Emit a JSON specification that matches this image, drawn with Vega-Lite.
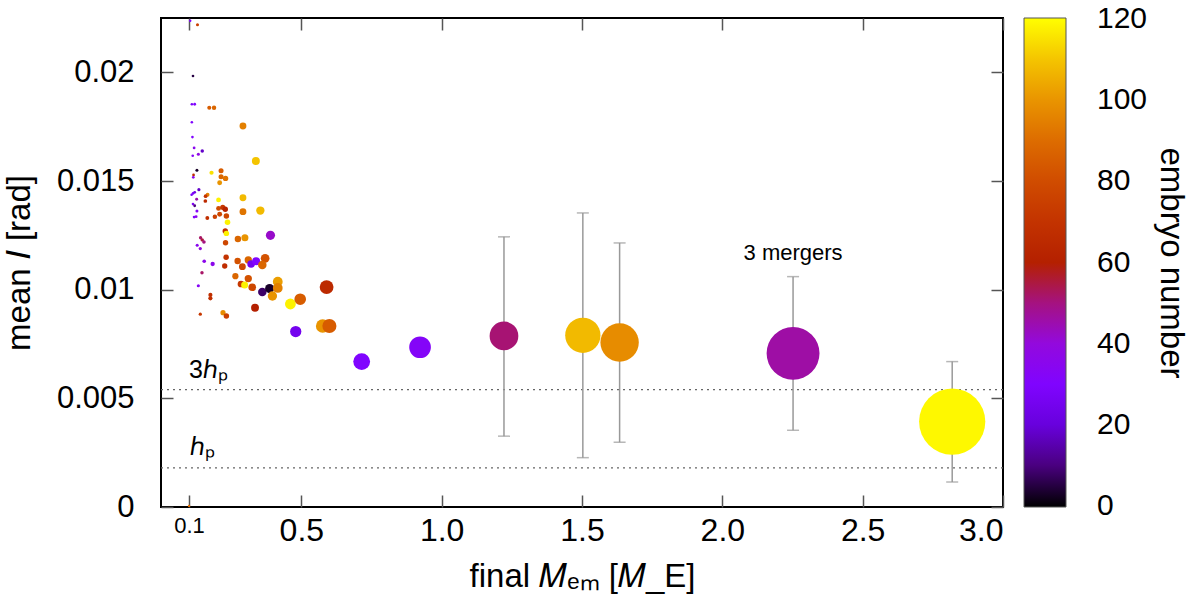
{
  "$schema": "https://vega.github.io/schema/vega-lite/v6.json",
  "autosize": {"type": "none"},
  "width": 842,
  "height": 489,
  "padding": {"left": 161, "top": 18, "right": 197, "bottom": 109},
  "config": {
    "font": "Liberation Sans",
    "view": {"stroke": "#000", "strokeWidth": 2},
    "axis": {
      "domain": false,
      "grid": false,
      "tickColor": "#555",
      "tickWidth": 1.5,
      "tickSize": -12,
      "labelColor": "#000",
      "labelFontSize": 31,
      "titleFontSize": 33,
      "titleFontWeight": "normal",
      "titleColor": "#000"
    },
    "legend": {"gradientLabelOffset": 31}
  },
  "datasets": {
    "pts": [
      {"m": 0.104, "i": 0.02237, "n": 30}, {"m": 0.130, "i": 0.02219, "n": 75},
      {"m": 0.114, "i": 0.01983, "n": 5}, {"m": 0.110, "i": 0.01853, "n": 28},
      {"m": 0.120, "i": 0.01853, "n": 30}, {"m": 0.172, "i": 0.01837, "n": 85},
      {"m": 0.189, "i": 0.01837, "n": 88}, {"m": 0.110, "i": 0.01770, "n": 30},
      {"m": 0.292, "i": 0.01753, "n": 95}, {"m": 0.112, "i": 0.01702, "n": 30},
      {"m": 0.118, "i": 0.01652, "n": 35}, {"m": 0.113, "i": 0.01616, "n": 32},
      {"m": 0.133, "i": 0.01623, "n": 38}, {"m": 0.147, "i": 0.01638, "n": 18},
      {"m": 0.338, "i": 0.01592, "n": 110}, {"m": 0.128, "i": 0.01549, "n": 3},
      {"m": 0.116, "i": 0.01528, "n": 65}, {"m": 0.115, "i": 0.01517, "n": 35},
      {"m": 0.180, "i": 0.01538, "n": 115}, {"m": 0.214, "i": 0.01547, "n": 85},
      {"m": 0.214, "i": 0.01520, "n": 88}, {"m": 0.230, "i": 0.01512, "n": 92},
      {"m": 0.209, "i": 0.01492, "n": 100}, {"m": 0.114, "i": 0.01443, "n": 30},
      {"m": 0.109, "i": 0.01437, "n": 28}, {"m": 0.120, "i": 0.01448, "n": 22},
      {"m": 0.135, "i": 0.01460, "n": 18}, {"m": 0.166, "i": 0.01437, "n": 95},
      {"m": 0.159, "i": 0.01430, "n": 70}, {"m": 0.127, "i": 0.01416, "n": 45},
      {"m": 0.114, "i": 0.01394, "n": 32}, {"m": 0.158, "i": 0.01408, "n": 65},
      {"m": 0.120, "i": 0.01386, "n": 10}, {"m": 0.292, "i": 0.01423, "n": 108},
      {"m": 0.205, "i": 0.01413, "n": 118}, {"m": 0.128, "i": 0.01362, "n": 32},
      {"m": 0.118, "i": 0.01334, "n": 30}, {"m": 0.125, "i": 0.01336, "n": 35},
      {"m": 0.165, "i": 0.01330, "n": 68}, {"m": 0.192, "i": 0.01336, "n": 75},
      {"m": 0.209, "i": 0.01347, "n": 78}, {"m": 0.205, "i": 0.01374, "n": 80},
      {"m": 0.220, "i": 0.01379, "n": 72}, {"m": 0.229, "i": 0.01370, "n": 62},
      {"m": 0.233, "i": 0.01339, "n": 78}, {"m": 0.292, "i": 0.01359, "n": 92},
      {"m": 0.354, "i": 0.01364, "n": 108}, {"m": 0.237, "i": 0.01310, "n": 118},
      {"m": 0.229, "i": 0.01270, "n": 68}, {"m": 0.233, "i": 0.01259, "n": 118},
      {"m": 0.141, "i": 0.01239, "n": 52}, {"m": 0.147, "i": 0.01229, "n": 55},
      {"m": 0.153, "i": 0.01219, "n": 50}, {"m": 0.230, "i": 0.01216, "n": 78},
      {"m": 0.274, "i": 0.01233, "n": 88}, {"m": 0.299, "i": 0.01239, "n": 100},
      {"m": 0.390, "i": 0.01250, "n": 42}, {"m": 0.129, "i": 0.01204, "n": 35},
      {"m": 0.140, "i": 0.01189, "n": 40}, {"m": 0.154, "i": 0.01131, "n": 36},
      {"m": 0.184, "i": 0.01118, "n": 36}, {"m": 0.232, "i": 0.01149, "n": 70},
      {"m": 0.227, "i": 0.01109, "n": 67}, {"m": 0.273, "i": 0.01132, "n": 82},
      {"m": 0.290, "i": 0.01106, "n": 78}, {"m": 0.311, "i": 0.01137, "n": 88},
      {"m": 0.321, "i": 0.01118, "n": 25}, {"m": 0.339, "i": 0.01131, "n": 30},
      {"m": 0.371, "i": 0.01144, "n": 82}, {"m": 0.361, "i": 0.01114, "n": 88},
      {"m": 0.146, "i": 0.01078, "n": 52}, {"m": 0.133, "i": 0.01018, "n": 33},
      {"m": 0.265, "i": 0.01062, "n": 88}, {"m": 0.285, "i": 0.01026, "n": 72},
      {"m": 0.298, "i": 0.01022, "n": 118}, {"m": 0.311, "i": 0.01051, "n": 82},
      {"m": 0.325, "i": 0.01011, "n": 78}, {"m": 0.361, "i": 0.00989, "n": 8},
      {"m": 0.387, "i": 0.01005, "n": 3}, {"m": 0.416, "i": 0.01037, "n": 102},
      {"m": 0.416, "i": 0.01008, "n": 95}, {"m": 0.397, "i": 0.00971, "n": 100},
      {"m": 0.461, "i": 0.00934, "n": 118}, {"m": 0.496, "i": 0.00956, "n": 85},
      {"m": 0.590, "i": 0.01012, "n": 65}, {"m": 0.176, "i": 0.00976, "n": 68},
      {"m": 0.176, "i": 0.00960, "n": 68}, {"m": 0.140, "i": 0.00887, "n": 72},
      {"m": 0.221, "i": 0.00894, "n": 98}, {"m": 0.233, "i": 0.00879, "n": 75},
      {"m": 0.335, "i": 0.00917, "n": 60}, {"m": 0.480, "i": 0.00807, "n": 25},
      {"m": 0.576, "i": 0.00833, "n": 100}, {"m": 0.600, "i": 0.00833, "n": 85},
      {"m": 0.100, "i": 0.00005, "n": 90}, {"m": 0.715, "i": 0.00669, "n": 30},
      {"m": 0.923, "i": 0.00735, "n": 32}, {"m": 1.222, "i": 0.00787, "n": 51},
      {"m": 1.503, "i": 0.00790, "n": 108}, {"m": 1.634, "i": 0.00757, "n": 98},
      {"m": 2.252, "i": 0.00707, "n": 46}, {"m": 2.819, "i": 0.00393, "n": 119}
    ],
    "err": [
      {"m": 1.222, "lo": 0.00326, "hi": 0.01243},
      {"m": 1.503, "lo": 0.00227, "hi": 0.01353},
      {"m": 1.634, "lo": 0.00298, "hi": 0.01215},
      {"m": 2.252, "lo": 0.00353, "hi": 0.01060},
      {"m": 2.819, "lo": 0.00115, "hi": 0.00669}
    ],
    "ref": [{"i": 0.0054}, {"i": 0.0018}],
    "hlabels": [
      {"m": 0.1, "i": 0.0063, "t": "3ℎₚ"},
      {"m": 0.105, "i": 0.00276, "t": "ℎₚ"}
    ],
    "notes": [{"m": 2.252, "i": 0.01167, "t": "3 mergers"}]
  },
  "layer": [
    {
      "data": {"name": "ref"},
      "mark": {"type": "rule", "strokeDash": [2, 4], "color": "#666", "strokeWidth": 1.2},
      "encoding": {
        "y": {"field": "i", "type": "quantitative", "scale": {"domain": [0, 0.0225], "nice": false}, "axis": null}
      }
    },
    {
      "data": {"name": "err"},
      "mark": {"type": "rule", "color": "#999", "strokeWidth": 1.5},
      "encoding": {
        "x": {"field": "m", "type": "quantitative", "scale": {"domain": [0, 3], "nice": false},
          "axis": {"orient": "top", "values": [0.1, 0.5, 1, 1.5, 2, 2.5, 3], "labels": false, "title": null}},
        "y": {"field": "lo", "type": "quantitative", "scale": {"domain": [0, 0.0225], "nice": false},
          "axis": {"orient": "right", "values": [0, 0.005, 0.01, 0.015, 0.02], "labels": false, "title": null}},
        "y2": {"field": "hi"}
      }
    },
    {
      "data": {"name": "err"},
      "mark": {"type": "tick", "orient": "horizontal", "color": "#999", "size": 12, "thickness": 1.5},
      "encoding": {
        "x": {"field": "m", "type": "quantitative", "scale": {"domain": [0, 3], "nice": false}, "axis": null},
        "y": {"field": "lo", "type": "quantitative", "scale": {"domain": [0, 0.0225], "nice": false}, "axis": null}
      }
    },
    {
      "data": {"name": "err"},
      "mark": {"type": "tick", "orient": "horizontal", "color": "#999", "size": 12, "thickness": 1.5},
      "encoding": {
        "x": {"field": "m", "type": "quantitative", "scale": {"domain": [0, 3], "nice": false}, "axis": null},
        "y": {"field": "hi", "type": "quantitative", "scale": {"domain": [0, 0.0225], "nice": false}, "axis": null}
      }
    },
    {
      "data": {"name": "pts"},
      "mark": {"type": "circle", "opacity": 1},
      "encoding": {
        "x": {
          "field": "m", "type": "quantitative",
          "scale": {"domain": [0, 3], "nice": false},
          "axis": {
            "orient": "bottom",
            "values": [0.1, 0.5, 1, 1.5, 2, 2.5, 3],
            "format": ".1f",
            "labelFontSize": {"condition": {"test": "datum.value < 0.2", "value": 22}, "value": 32},
            "labelPadding": 20,
            "title": "final 𝑀ₑₘ [𝑀_E]",
            "titlePadding": 14
          }
        },
        "y": {
          "field": "i", "type": "quantitative",
          "scale": {"domain": [0, 0.0225], "nice": false},
          "axis": {
            "orient": "left",
            "values": [0, 0.005, 0.01, 0.015, 0.02],
            "format": "~g",
            "labelPadding": 39,
            "title": "mean 𝐼 [rad]",
            "titlePadding": 20
          }
        },
        "size": {
          "field": "m", "type": "quantitative",
          "scale": {"type": "pow", "exponent": 2, "domain": [0, 3], "range": [0, 4970]},
          "legend": null
        },
        "color": {
          "field": "n", "type": "quantitative",
          "scale": {
            "domain": [-0.3, 10, 20, 30, 40, 50, 60, 70, 80, 90, 100, 110, 120.3],
            "range": ["#000000", "#4a0080", "#6801dd", "#8004ff", "#9309dd", "#a51280", "#b42000", "#c33300", "#d04c00", "#dd6c00", "#e99400", "#f4c400", "#ffff00"],
            "interpolate": "rgb"
          },
          "legend": {
            "title": "embryo number",
            "orient": "right",
            "offset": 20,
            "direction": "vertical",
            "gradientLength": 489,
            "gradientThickness": 42,
            "gradientStrokeColor": "#555",
            "gradientStrokeWidth": 1,
            "values": [0, 20, 40, 60, 80, 100, 120],
            "labelFontSize": 30,
            "labelOffset": 31,
            "labelColor": "#000",
            "labelOverlap": false,
            "titleOrient": "right",
            "titleAngle": 270,
            "titleAnchor": "middle",
            "titleFontSize": 33,
            "titleFontWeight": "normal",
            "titleColor": "#000",
            "titleLimit": 500,
            "titlePadding": 7
          }
        }
      }
    },
    {
      "data": {"name": "hlabels"},
      "mark": {"type": "text", "align": "left", "baseline": "middle", "fontSize": 25, "color": "#000"},
      "encoding": {
        "x": {"field": "m", "type": "quantitative", "scale": {"domain": [0, 3], "nice": false}, "axis": null},
        "y": {"field": "i", "type": "quantitative", "scale": {"domain": [0, 0.0225], "nice": false}, "axis": null},
        "text": {"field": "t"}
      }
    },
    {
      "data": {"name": "notes"},
      "mark": {"type": "text", "align": "center", "baseline": "middle", "fontSize": 22, "color": "#000"},
      "encoding": {
        "x": {"field": "m", "type": "quantitative", "scale": {"domain": [0, 3], "nice": false}, "axis": null},
        "y": {"field": "i", "type": "quantitative", "scale": {"domain": [0, 0.0225], "nice": false}, "axis": null},
        "text": {"field": "t"}
      }
    }
  ],
  "resolve": {"axis": {"x": "independent", "y": "independent"}}
}
